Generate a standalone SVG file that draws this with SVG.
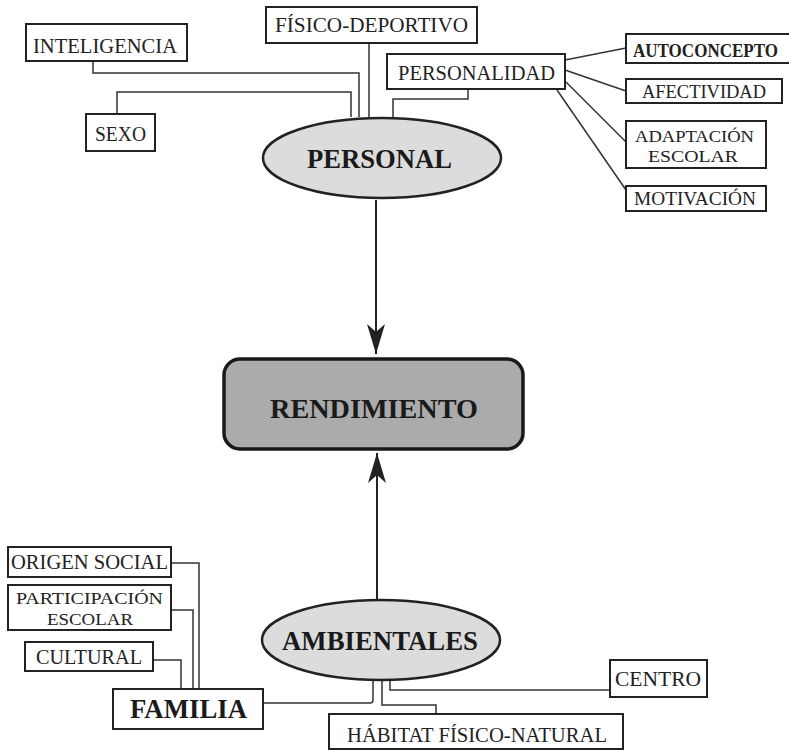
<svg xmlns="http://www.w3.org/2000/svg" width="789" height="751" viewBox="0 0 789 751">
<style>
.box{fill:#fff;stroke:#222;stroke-width:2}
.t{font-family:"Liberation Serif","DejaVu Serif",serif;font-size:20px;fill:#222;text-anchor:middle}
.s{font-size:19px}
.two{font-size:17.5px}
.b{font-weight:bold;font-size:18px}
.big{font-family:"Liberation Serif","DejaVu Serif",serif;font-size:27px;font-weight:bold;fill:#1a1a1a;text-anchor:middle}
.ell{fill:#dcdcdc;stroke:#222;stroke-width:2.5}
.ln{fill:none;stroke:#333;stroke-width:1.5}
</style>
<defs>
<marker id="ah" viewBox="0 0 30 20" refX="30" refY="10" markerWidth="30" markerHeight="20" markerUnits="userSpaceOnUse" orient="auto">
<path d="M0,1 L30,10 L0,19 L8,10 Z" fill="#222"/>
</marker>
</defs>
<g id="connectors">
<polyline class="ln" points="93,61 93,73 359,73 359,117"/>
<polyline class="ln" points="117,114 117,92 351,92 351,117"/>
<polyline class="ln" points="369,43 369,117"/>
<polyline class="ln" points="468,89 468,99 393,99 393,118"/>
<line class="ln" x1="565" y1="60" x2="626" y2="48"/>
<line class="ln" x1="565" y1="70" x2="626" y2="91"/>
<line class="ln" x1="566" y1="82" x2="626" y2="142"/>
<line class="ln" x1="557" y1="90" x2="626" y2="190"/>
<line x1="376" y1="200" x2="376" y2="354" stroke="#222" stroke-width="2" marker-end="url(#ah)"/>
<line x1="377" y1="600" x2="377" y2="453" stroke="#222" stroke-width="2" marker-end="url(#ah)"/>
<polyline class="ln" points="171,563 199,563 199,689"/>
<polyline class="ln" points="171,610 193,610 193,689"/>
<polyline class="ln" points="153,660 181,660 181,689"/>
<path class="ln" d="M263,703 L370,703 Q373,703 373,700 L373,680"/>
<polyline class="ln" points="382,681 382,705 436,705 436,714"/>
<polyline class="ln" points="390,680 390,690 610,690"/>
</g>
<g id="inteligencia"><rect class="box" x="26" y="24" width="161" height="37"/><text class="t" x="105" y="53" textLength="144" lengthAdjust="spacingAndGlyphs">INTELIGENCIA</text></g>
<g id="sexo"><rect class="box" x="86" y="114" width="69" height="37"/><text class="t" x="120.5" y="141" textLength="51" lengthAdjust="spacingAndGlyphs">SEXO</text></g>
<g id="fisico-deportivo"><rect class="box" x="266" y="7" width="211" height="36"/><text class="t" x="371.5" y="32" textLength="193" lengthAdjust="spacingAndGlyphs">FÍSICO-DEPORTIVO</text></g>
<g id="personalidad"><rect class="box" x="387" y="54" width="178" height="35"/><text class="t" x="476.5" y="80" textLength="157" lengthAdjust="spacingAndGlyphs">PERSONALIDAD</text></g>
<g id="autoconcepto"><rect class="box" x="626" y="34" width="170" height="29"/><text class="t b" x="705.5" y="57" textLength="145" lengthAdjust="spacingAndGlyphs">AUTOCONCEPTO</text></g>
<g id="afectividad"><rect class="box" x="626" y="79" width="156" height="24"/><text class="t s" x="704" y="98" textLength="124" lengthAdjust="spacingAndGlyphs">AFECTIVIDAD</text></g>
<g id="adaptacion"><rect class="box" x="626" y="121" width="140" height="47"/><text class="t two" x="694.5" y="142" textLength="119" lengthAdjust="spacingAndGlyphs">ADAPTACIÓN</text><text class="t two" x="693" y="162" textLength="90" lengthAdjust="spacingAndGlyphs">ESCOLAR</text></g>
<g id="motivacion"><rect class="box" x="626" y="186" width="140" height="25"/><text class="t s" x="695" y="205" textLength="122" lengthAdjust="spacingAndGlyphs">MOTIVACIÓN</text></g>
<g id="personal"><ellipse class="ell" cx="382" cy="158" rx="119" ry="40"/><text class="big" x="379.5" y="168" textLength="145" lengthAdjust="spacingAndGlyphs">PERSONAL</text></g>
<g id="rendimiento"><rect x="224" y="359" width="299" height="90" rx="16" fill="#ababab" stroke="#1a1a1a" stroke-width="3.5"/><text class="big" x="374" y="418" textLength="208" lengthAdjust="spacingAndGlyphs">RENDIMIENTO</text></g>
<g id="ambientales"><ellipse class="ell" cx="381" cy="640" rx="119" ry="40"/><text class="big" x="380" y="650" textLength="196" lengthAdjust="spacingAndGlyphs">AMBIENTALES</text></g>
<g id="origen-social"><rect class="box" x="8" y="547" width="163" height="30"/><text class="t" x="89.5" y="569" textLength="157" lengthAdjust="spacingAndGlyphs">ORIGEN SOCIAL</text></g>
<g id="participacion"><rect class="box" x="8" y="585" width="163" height="45"/><text class="t two" x="89.5" y="604" textLength="147" lengthAdjust="spacingAndGlyphs">PARTICIPACIÓN</text><text class="t two" x="90" y="625" textLength="86" lengthAdjust="spacingAndGlyphs">ESCOLAR</text></g>
<g id="cultural"><rect class="box" x="25" y="642" width="128" height="29"/><text class="t" x="89" y="664" textLength="106" lengthAdjust="spacingAndGlyphs">CULTURAL</text></g>
<g id="familia"><rect class="box" x="113" y="689" width="150" height="40"/><text class="big" x="188.5" y="718" textLength="117" lengthAdjust="spacingAndGlyphs">FAMILIA</text></g>
<g id="centro"><rect class="box" x="610" y="660" width="97" height="37"/><text class="t" x="658" y="686" textLength="86" lengthAdjust="spacingAndGlyphs">CENTRO</text></g>
<g id="habitat"><rect class="box" x="329" y="714" width="294" height="35"/><text class="t" x="477" y="742" textLength="260" lengthAdjust="spacingAndGlyphs">HÁBITAT FÍSICO-NATURAL</text></g>
</svg>
